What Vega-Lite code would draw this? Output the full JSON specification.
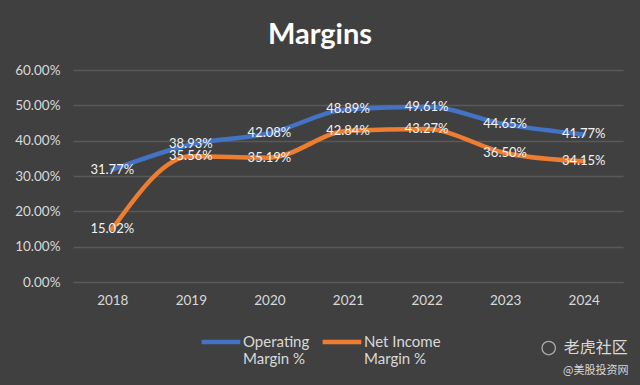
{
  "$schema": "https://vega.github.io/schema/vega-lite/v6.json",
  "width": 550,
  "height": 212,
  "autosize": {"type": "none"},
  "padding": {"left": 73, "top": 70, "right": 17, "bottom": 103},
  "background": "#404040",
  "title": {"text": "Margins", "fontSize": 29, "font": "Lato", "fontWeight": "bold", "color": "#ffffff", "anchor": "middle", "dx": -28, "offset": 13},
  "config": {"view": {"stroke": null}, "font": "Lato"},
  "datasets": {
    "margins": [
      {"year": "2018", "series": "Operating Margin %", "value": 0.3177},
      {"year": "2019", "series": "Operating Margin %", "value": 0.3893},
      {"year": "2020", "series": "Operating Margin %", "value": 0.4208},
      {"year": "2021", "series": "Operating Margin %", "value": 0.4889},
      {"year": "2022", "series": "Operating Margin %", "value": 0.4961},
      {"year": "2023", "series": "Operating Margin %", "value": 0.4465},
      {"year": "2024", "series": "Operating Margin %", "value": 0.4177},
      {"year": "2018", "series": "Net Income Margin %", "value": 0.1502},
      {"year": "2019", "series": "Net Income Margin %", "value": 0.3556},
      {"year": "2020", "series": "Net Income Margin %", "value": 0.3519},
      {"year": "2021", "series": "Net Income Margin %", "value": 0.4284},
      {"year": "2022", "series": "Net Income Margin %", "value": 0.4327},
      {"year": "2023", "series": "Net Income Margin %", "value": 0.3650},
      {"year": "2024", "series": "Net Income Margin %", "value": 0.3415}
    ],
    "watermark": [
      {"year": "2024", "pos": -0.187, "label": "老虎社区", "kind": "big"},
      {"year": "2024", "pos": -0.251, "label": "@美股投资网", "kind": "small"}
    ],
    "icon": [
      {"year": "2024", "pos": -0.187}
    ]
  },
  "layer": [
    {
      "data": {"name": "margins"},
      "mark": {"type": "line", "strokeWidth": 4.5, "interpolate": "monotone", "strokeCap": "round"},
      "encoding": {
        "x": {"field": "year", "type": "ordinal", "scale": {"type": "point", "padding": 0.5},
          "axis": {"title": null, "labelAngle": 0, "ticks": false, "domainColor": "#595959", "labelColor": "#d9d9d9", "labelFontSize": 13.5, "labelPadding": 11, "labelFont": "Lato"}},
        "y": {"field": "value", "type": "quantitative", "scale": {"domain": [0, 0.6]},
          "axis": {"title": null, "format": ".2%", "values": [0, 0.1, 0.2, 0.3, 0.4, 0.5, 0.6], "tickCount": 7, "labelOverlap": false, "ticks": false, "domain": false, "gridColor": "#595959", "gridWidth": 1.3, "labelColor": "#d9d9d9", "labelFontSize": 13.5, "labelPadding": 13, "labelFont": "Lato"}},
        "color": {"field": "series", "type": "nominal",
          "scale": {"domain": ["Operating Margin %", "Net Income Margin %"], "range": ["#4472C4", "#ED7D31"]},
          "legend": {"title": null, "orient": "none", "legendX": 126, "legendY": 250, "direction": "horizontal",
            "symbolType": "stroke", "symbolSize": 1500, "symbolStrokeWidth": 4.5,
            "labelColor": "#d9d9d9", "labelFontSize": 15, "labelFont": "Lato", "labelOffset": 0, "columnPadding": 3,
            "labelExpr": "datum.label == 'Operating Margin %' ? ['Operating', 'Margin %'] : ['Net Income', 'Margin %']"}}
      }
    },
    {
      "data": {"name": "margins"},
      "mark": {"type": "text", "color": "#f2f2f2", "fontSize": 13, "font": "Lato", "align": "center", "baseline": "middle"},
      "encoding": {
        "x": {"field": "year", "type": "ordinal"},
        "y": {"field": "value", "type": "quantitative"},
        "text": {"field": "value", "type": "quantitative", "format": ".2%"}
      }
    },
    {
      "data": {"name": "watermark"},
      "mark": {"type": "text", "color": "#d9d9d9", "font": "Noto Sans CJK SC", "align": "center", "baseline": "middle", "dx": 12},
      "encoding": {
        "x": {"field": "year", "type": "ordinal"},
        "y": {"field": "pos", "type": "quantitative"},
        "text": {"field": "label"},
        "size": {"field": "kind", "type": "nominal", "scale": {"domain": ["big", "small"], "range": [16, 11]}, "legend": null}
      }
    },
    {
      "data": {"name": "icon"},
      "mark": {"type": "point", "shape": "circle", "filled": false, "size": 180, "stroke": "#d9d9d9", "strokeWidth": 1.3, "xOffset": -35},
      "encoding": {
        "x": {"field": "year", "type": "ordinal"},
        "y": {"field": "pos", "type": "quantitative"}
      }
    }
  ]
}
